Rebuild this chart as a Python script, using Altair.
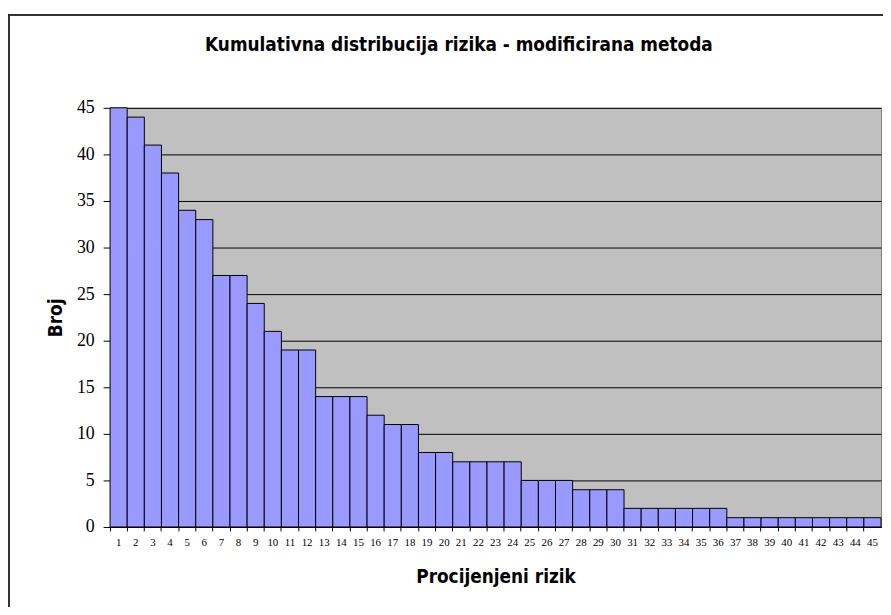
import altair as alt
import pandas as pd

risk = [str(i) for i in range(1, 46)]
counts = [45, 44, 41, 38, 34, 33, 27, 27, 24, 21, 19, 19, 14, 14, 14, 12, 11, 11,
          8, 8, 7, 7, 7, 7, 5, 5, 5, 4, 4, 4, 2, 2, 2, 2, 2, 2,
          1, 1, 1, 1, 1, 1, 1, 1, 1]
y_ticks = [0, 5, 10, 15, 20, 25, 30, 35, 40, 45]

df = pd.DataFrame({"risk": risk, "count": counts})

SANS = "Liberation Sans Narrow, DejaVu Sans Condensed, Liberation Sans, sans-serif"

bars = alt.Chart(df).mark_bar(color="#9999FF", stroke="black", strokeWidth=1).encode(
    x=alt.X("risk:N", sort=risk, title="Procijenjeni rizik",
            scale=alt.Scale(paddingInner=0, paddingOuter=0),
            axis=alt.Axis(labelAngle=0, labelFont="Liberation Serif", labelFontSize=11,
                          labelColor="black", tickColor="black", domainColor="black",
                          tickSize=4, labelPadding=6, bandPosition=0,
                          titleFont=SANS, titleFontSize=19,
                          titleFontWeight="bold", titleColor="black", titlePadding=20)),
    y=alt.Y("count:Q", title="Broj",
            scale=alt.Scale(domain=[0, 45], nice=False),
            axis=alt.Axis(values=y_ticks, labelFont="Liberation Serif", labelFontSize=18,
                          labelColor="black", tickColor="black", domainColor="black",
                          tickSize=7, labelPadding=9, grid=True, gridColor="black",
                          gridWidth=1, gridOpacity=1,
                          titleFont=SANS, titleFontSize=19,
                          titleFontWeight="bold", titleColor="black", titlePadding=11)),
)

frame_left = alt.Chart(df).mark_rule(color="#333333", strokeWidth=1.5).encode(
    x=alt.value(-102), y=alt.value(-94), y2=alt.value(520))
frame_top = alt.Chart(df).mark_rule(color="#333333", strokeWidth=1.5).encode(
    x=alt.value(-102), x2=alt.value(800), y=alt.value(-94))

chart = alt.layer(bars, frame_left, frame_top).properties(
    width=778, height=423,
    background="white",
    autosize=alt.AutoSizeParams(type="none"),
    padding={"left": 103, "top": 98, "right": 2, "bottom": 78},
    title=alt.TitleParams("Kumulativna distribucija rizika - modificirana metoda",
                          font=SANS, fontSize=19, fontWeight="bold",
                          color="black", offset=0, dy=41, dx=-37, anchor="middle"),
).configure_view(fill="#C0C0C0", stroke="#808080")

chart.save("out.html", embed_options={"renderer": "svg", "actions": False})
